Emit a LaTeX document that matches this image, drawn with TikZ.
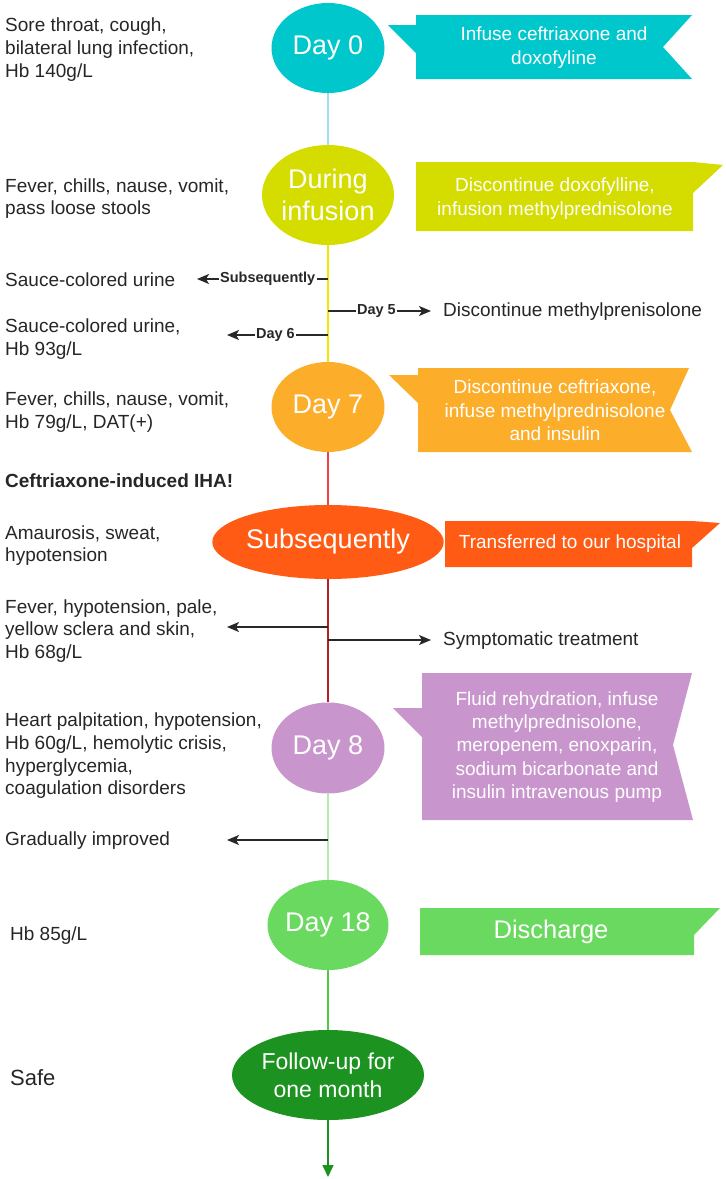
\documentclass[tikz,border=0pt]{standalone}
\usepackage{fontspec}
\setmainfont{Liberation Sans}
\usetikzlibrary{arrows.meta,shapes.geometric}
\definecolor{txtgray}{RGB}{38,38,38}
\definecolor{arrgray}{RGB}{40,40,40}
\definecolor{cCyan}{RGB}{0,199,204}
\definecolor{cYG}{RGB}{212,220,0}
\definecolor{cOr}{RGB}{252,174,42}
\definecolor{cOR}{RGB}{255,91,20}
\definecolor{cLil}{RGB}{200,150,204}
\definecolor{cGr}{RGB}{106,217,95}
\definecolor{cDG}{RGB}{28,146,32}
\definecolor{l1}{RGB}{158,224,228}
\definecolor{l2}{RGB}{242,230,0}
\definecolor{l3}{RGB}{236,68,68}
\definecolor{l4}{RGB}{178,34,34}
\definecolor{l5}{RGB}{181,234,174}
\definecolor{l6}{RGB}{76,203,60}
\begin{document}
\begin{tikzpicture}[x=1pt,y=-1pt,
  lefttxt/.style={anchor=west, inner sep=0pt, align=left, text=txtgray, font=\fontsize{19}{22.7}\selectfont},
  bantxt/.style={text=white, align=center, inner sep=0pt, font=\fontsize{19}{23.4}\selectfont},
  bubble/.style={ellipse, inner sep=0pt, text=white, align=center, font=\fontsize{27}{32}\selectfont},
  seg/.style={line width=1.5pt},
  arr/.style={draw=arrgray, line width=1.5pt, -{Stealth[length=12pt,width=10pt,inset=3pt]}},
  lbl/.style={fill=white, inner sep=1.5pt, text=arrgray, font=\bfseries\fontsize{14.5}{16}\selectfont}]
\useasboundingbox (0,0) rectangle (726,1179);

% bubbles
\node[bubble, fill=cCyan, minimum width=113pt, minimum height=90pt] (d0) at (328,48) {Day 0};
\node[bubble, fill=cYG, minimum width=132pt, minimum height=100pt] (dur) at (328,195) {During\\infusion};
\node[bubble, fill=cOr, minimum width=113pt, minimum height=90pt] (d7) at (328,407) {Day 7};
\node[bubble, fill=cOR, minimum width=220pt, minimum height=74pt] (subs) at (328,542) {Subsequently};
\node[bubble, fill=cLil, minimum width=113pt, minimum height=91pt] (d8) at (328,748) {Day 8};
\node[bubble, fill=cGr, minimum width=113pt, minimum height=90pt] (d18) at (328,925) {Day 18};
\node[bubble, fill=cDG, minimum width=192pt, minimum height=90pt, font=\fontsize{23}{28}\selectfont] (fu) at (328,1075) {Follow-up for\\one month};
\coordinate (fuend) at (328,1177);

% main line
\draw[seg, l1] (d0) -- (dur);
\draw[seg, l2] (dur) -- (d7);
\draw[seg, l3] (d7) -- (subs);
\draw[seg, l4] (subs) -- (d8);
\draw[seg, l5] (d8) -- (d18);
\draw[seg, l6] (d18) -- (fu);
\draw[seg, cDG, -{Triangle[length=12pt,width=11pt]}] (fu) -- (fuend);

% banners
\fill[cCyan] (416,15) -- (692,15) -- (663,47) -- (692,79) -- (416,79) -- (416,53) -- (388,25) -- (416,25) -- cycle;
\node[bantxt] (b0) at (554,47.5) {Infuse ceftriaxone and\\doxofyline};
\fill[cYG] (416,162) -- (693,162) -- (723,165) -- (693,193) -- (693,231) -- (416,231) -- cycle;
\node[bantxt] (b1) at (555,198.5) {Discontinue doxofylline,\\infusion methylprednisolone};
\fill[cOr] (418,368) -- (689,368) -- (670,410) -- (692,452) -- (418,452) -- (418,403) -- (389,375) -- (418,375) -- cycle;
\node[bantxt] (b7) at (555,410.5) {Discontinue ceftriaxone,\\infuse methylprednisolone\\and insulin};
\fill[cOR] (445,521) -- (692,521) -- (720,523) -- (692,548) -- (692,567) -- (445,567) -- cycle;
\node[bantxt] (bs) at (570,544) {Transferred to our hospital};
\fill[cLil] (422,673) -- (692,673) -- (673,745) -- (693,820) -- (422,820) -- (422,737) -- (393,708) -- (422,708) -- cycle;
\node[bantxt] (b8) at (557,747) {Fluid rehydration, infuse\\methylprednisolone,\\meropenem, enoxparin,\\sodium bicarbonate and\\insulin intravenous pump};
\fill[cGr] (420,908) -- (694,908) -- (720,908) -- (694,935) -- (694,955) -- (420,955) -- cycle;
\node[bantxt, font=\fontsize{25.5}{30}\selectfont] (b18) at (551,932) {Discharge};

% left texts
\node[lefttxt] (t0) at (5,49.5) {Sore throat, cough,\\bilateral lung infection,\\Hb 140g/L};
\node[lefttxt] (t1) at (5,198.5) {Fever, chills, nause, vomit,\\pass loose stools};
\node[lefttxt] (t2) at (5,280) {Sauce-colored urine};
\node[lefttxt] (t3) at (5,339) {Sauce-colored urine,\\Hb 93g/L};
\node[lefttxt] (t4) at (5,412) {Fever, chills, nause, vomit,\\Hb 79g/L, DAT(+)};
\node[lefttxt, font=\bfseries\fontsize{19}{22.7}\selectfont] (t5) at (5,481) {Ceftriaxone-induced IHA!};
\node[lefttxt] (t6) at (5,545.5) {Amaurosis, sweat,\\hypotension};
\node[lefttxt] (t7) at (5,631) {Fever, hypotension, pale,\\yellow sclera and skin,\\Hb 68g/L};
\node[lefttxt] (t8) at (5,756) {Heart palpitation, hypotension,\\Hb 60g/L, hemolytic crisis,\\hyperglycemia,\\coagulation disorders};
\node[lefttxt] (t9) at (5,841) {Gradually improved};
\node[lefttxt] (t10) at (10,936) {Hb 85g/L};
\node[lefttxt, font=\fontsize{22}{26}\selectfont] (t11) at (10,1078) {Safe};

% right texts
\node[lefttxt] (r1) at (443,312) {Discontinue methylprenisolone};
\node[lefttxt] (r2) at (443,641) {Symptomatic treatment};

% branch arrows
\coordinate (a1) at (328,279); \coordinate (a1e) at (197,279);
\coordinate (a2) at (328,311); \coordinate (a2e) at (431,311);
\coordinate (a3) at (328,335); \coordinate (a3e) at (227,335);
\coordinate (a4) at (328,627); \coordinate (a4e) at (227,627);
\coordinate (a5) at (328,640); \coordinate (a5e) at (431,640);
\coordinate (a6) at (328,840); \coordinate (a6e) at (227,840);
\draw[arr] (a1) -- node[lbl, pos=0.46] (L1) {Subsequently} (a1e);
\draw[arr] (a2) -- node[lbl, pos=0.47] (L2) {Day 5} (a2e);
\draw[arr] (a3) -- node[lbl, pos=0.52] (L3) {Day 6} (a3e);
\draw[arr] (a4) -- (a4e);
\draw[arr] (a5) -- (a5e);
\draw[arr] (a6) -- (a6e);
\end{tikzpicture}
\end{document}
